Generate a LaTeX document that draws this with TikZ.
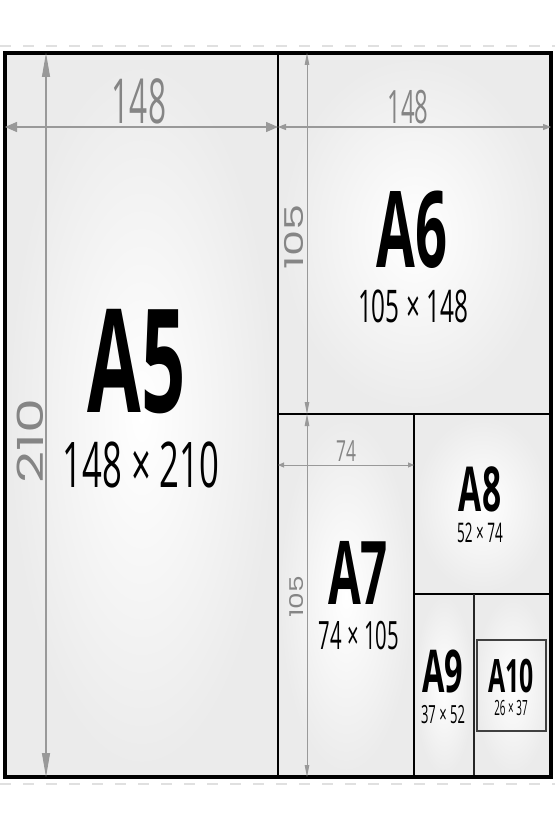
\documentclass[tikz,border=0pt]{standalone}
\usepackage{fontspec}
\usepackage{graphicx}
\setmainfont{Open Sans}
\newfontfamily\geofont{Poppins}
\usetikzlibrary{arrows.meta}
\newcommand{\cz}[2][0.54]{\scalebox{#1}[1]{#2}}
\newcommand{\wz}[2][1.55]{\scalebox{#1}[1]{#2}}
\tikzset{
  cell/.style={inner color=white, outer color=black!8},
  frame/.style={draw=black, line width=3.4pt},
  divider/.style={draw=black, line width=2.9pt},
  thindiv/.style={draw=black!85, line width=1.7pt},
  dimline/.style={draw=black!40, line width=#1},
  dimtext/.style={text=black!48, inner sep=0pt},
  sizename/.style={text=black, inner sep=0pt},
  faint/.style={draw=black!12, line width=1.4pt, dash pattern=on 11pt off 12pt},
}
\begin{document}
\begin{tikzpicture}[x=1pt,y=-1pt]
\useasboundingbox[fill=white] (0,0) rectangle (555,832);
% corners
\coordinate (tl) at (5,53);
\coordinate (br) at (551,777);
% faint dashed guide lines
\coordinate (ftl) at (0,46); \coordinate (ftr) at (555,46);
\coordinate (fbl) at (0,784); \coordinate (fbr) at (555,784);
\draw[faint] (ftl) -- (ftr);
\draw[faint] (fbl) -- (fbr);
% cells
\shade[cell] (5,53) rectangle (278,777);
\shade[cell] (278,53) rectangle (551,414);
\shade[cell] (278,414) rectangle (414,777);
\shade[cell] (414,414) rectangle (551,594);
\shade[cell] (414,594) rectangle (474,777);
\shade[cell] (474,594) rectangle (551,777);
% dividers
\draw[divider] (278,53) -- (278,777);
\draw[divider] (278,414) -- (551,414);
\draw[divider] (414,414) -- (414,777);
\draw[divider] (414,594) -- (551,594);
\draw[thindiv] (474,594) -- (474,777);
\draw[draw=black!75, line width=1.3pt] (477,640) rectangle (546,731);
\draw[frame] (tl) rectangle (br);
% dimension coordinates
\coordinate (a5hl) at (5,127); \coordinate (a5hr) at (278,127);
\coordinate (a5vt) at (46,53); \coordinate (a5vb) at (46,777);
\coordinate (a6hl) at (278,127); \coordinate (a6hr) at (551,127);
\coordinate (a6vt) at (307,53); \coordinate (a6vb) at (307,414);
\coordinate (a7hl) at (278,465); \coordinate (a7hr) at (414,465);
\coordinate (a7vt) at (307,414); \coordinate (a7vb) at (307,777);
% dimension lines
\draw[dimline=1.4pt, {Triangle[length=12pt,width=10pt]}-{Triangle[length=12pt,width=10pt]}] (a5hl) -- (a5hr);
\draw[dimline=1.1pt, {Triangle[length=24pt,width=8pt]}-{Triangle[length=24pt,width=8pt]}] (a5vt) -- (a5vb);
\draw[dimline=1.2pt, {Triangle[length=8pt,width=6pt]}-{Triangle[length=8pt,width=6pt]}] (a6hl) -- (a6hr);
\draw[dimline=0.9pt, {Triangle[length=12pt,width=4.5pt]}-{Triangle[length=12pt,width=4.5pt]}] (a6vt) -- (a6vb);
\draw[dimline=1pt, {Triangle[length=6pt,width=5pt]}-{Triangle[length=6pt,width=5pt]}] (a7hl) -- (a7hr);
\draw[dimline=0.9pt, {Triangle[length=12pt,width=4.5pt]}-{Triangle[length=12pt,width=4.5pt]}] (a7vt) -- (a7vb);
% dimension labels
\node[dimtext, font=\fontsize{62}{62}\selectfont] (d148a) at (139,101) {\cz[0.51]{148}};
\node[dimtext, font=\fontsize{46}{46}\selectfont] (d148b) at (408,107) {\cz[0.52]{148}};
\node[dimtext, font=\fontsize{29}{29}\selectfont] (d74) at (346,451) {\cz[0.6]{74}};
\node[dimtext, rotate=90, font=\geofont\fontsize{36}{36}\selectfont] (d210) at (30,441) {\wz[1.55]{210}};
\node[dimtext, rotate=90, font=\geofont\fontsize{26}{26}\selectfont] (d105a) at (294,237) {\wz[1.6]{105}};
\node[dimtext, rotate=90, font=\geofont\fontsize{19}{19}\selectfont] (d105b) at (297,597) {\wz[1.4]{105}};
% size names
\node[sizename, font=\fontsize{144}{144}\bfseries] (a5) at (137,362) {\cz{A5}};
\node[sizename, font=\fontsize{63}{63}\selectfont] (a5s) at (141,465) {\cz[0.55]{148 × 210}};
\node[sizename, font=\fontsize{106}{106}\bfseries] (a6) at (412,230) {\cz[0.53]{A6}};
\node[sizename, font=\fontsize{45}{45}\selectfont] (a6s) at (413,306) {\cz{105 × 148}};
\node[sizename, font=\fontsize{88}{88}\bfseries] (a7) at (358,573) {\cz{A7}};
\node[sizename, font=\fontsize{39}{39}\selectfont] (a7s) at (359,636) {\cz[0.52]{74 × 105}};
\node[sizename, font=\fontsize{62}{62}\bfseries] (a8) at (480,489) {\cz{A8}};
\node[sizename, font=\fontsize{27}{27}\selectfont] (a8s) at (480,533) {\cz[0.5]{52 × 74}};
\node[sizename, font=\fontsize{59}{59}\bfseries] (a9) at (443,671) {\cz[0.55]{A9}};
\node[sizename, font=\fontsize{25}{25}\selectfont] (a9s) at (443,715) {\cz[0.52]{37 × 52}};
\node[sizename, font=\fontsize{46}{46}\bfseries] (a10) at (511,676) {\cz{A10}};
\node[sizename, font=\fontsize{21}{21}\selectfont] (a10s) at (511,708) {\cz[0.47]{26 × 37}};
\end{tikzpicture}
\end{document}
